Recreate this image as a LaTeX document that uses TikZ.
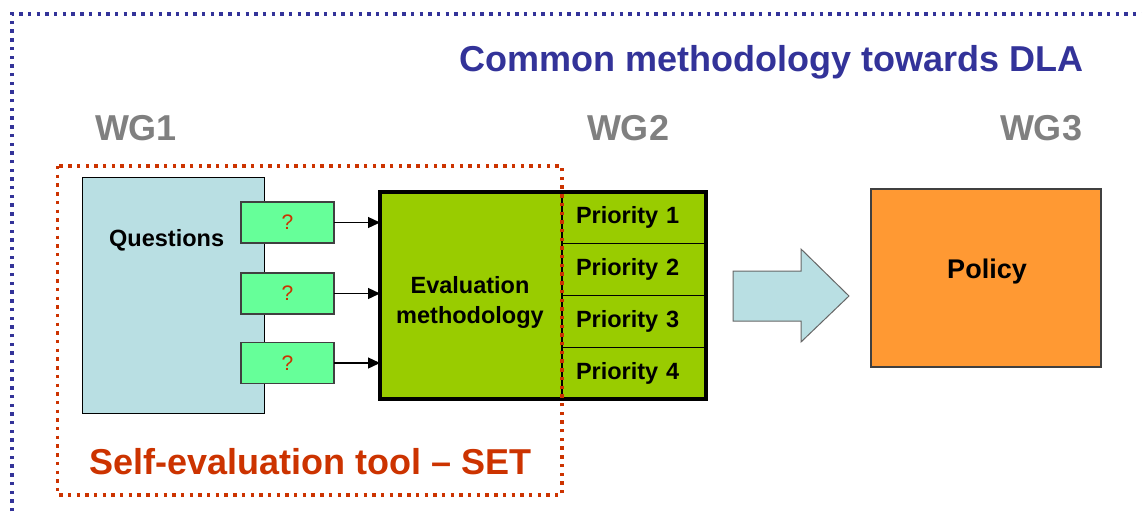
\documentclass[tikz,border=0pt]{standalone}
\usepackage{fontspec}
\setmainfont{Liberation Sans}
\usepackage{tikz}
\usetikzlibrary{arrows.meta,calc}
\definecolor{dlablue}{RGB}{51,51,153}
\definecolor{wggray}{RGB}{128,128,128}
\definecolor{setred}{RGB}{204,51,0}
\definecolor{questblue}{RGB}{185,223,227}
\definecolor{askgreen}{RGB}{102,255,153}
\definecolor{evalgreen}{RGB}{153,204,0}
\definecolor{policyorange}{RGB}{255,153,51}
\newcommand{\PxFont}[2]{\fontsize{#1}{#2}\selectfont\bfseries}
\tikzset{
  box/.style={draw, outer sep=0pt, inner sep=0pt},
  questbox/.style={box, fill=questblue, line width=1pt},         % WG1 question list
  askbox/.style={box, fill=askgreen, draw=black!75, line width=1.2pt,
    minimum width=93, minimum height=41, text=setred, font=\fontsize{21}{25}\selectfont},
  evalbox/.style={box, fill=evalgreen, line width=4pt},          % WG2 block
  prcell/.style={box, line width=1.4pt, minimum width=144, minimum height=51.75,
    text width=116pt, align=left, font=\PxFont{23.5}{28}},
  policybox/.style={box, fill=policyorange, draw=black!75, line width=1.4pt},
  flowline/.style={-{Triangle[length=12pt,width=11pt]}, line width=1.3pt},
  bigflow/.style={fill=questblue, draw=black!60, line width=1pt},
  heading/.style={inner sep=0pt, font=\PxFont{36}{43}},
  dlaframe/.style={draw=dlablue, line width=3.6pt, dash pattern=on 3.4pt off 5.3pt},
  setframe/.style={draw=setred, line width=3.6pt, dash pattern=on 3.4pt off 5.3pt}
}

\begin{document}
\begin{tikzpicture}[x=1pt, y=-1pt]
  \useasboundingbox (0,0) rectangle (1142,515);
  % WG1: questions
  \node[questbox, minimum width=182, minimum height=236] (quest) at (173,295) {};
  \node[inner sep=0pt, anchor=base west, font=\PxFont{23.5}{28}] (questlbl) at (109,246) {Questions};
  \foreach \i/\yy in {1/222.5, 2/293.5, 3/363}{
    \node[askbox] (q\i) at (287.5,\yy) {?};
  }
  % WG2: evaluation block with priorities
  \node[evalbox, minimum width=326, minimum height=207] (eval) at (543,295.5) {};
  \foreach \i/\yy in {1/217.9, 2/269.6, 3/321.4, 4/373.1}{
    \node[prcell] (pr\i) at (634,\yy) {Priority \i};
  }
  \node[inner sep=0pt, align=center, font=\PxFont{23.5}{29.5}] (evallbl) at (470,302.5)
    {Evaluation\\methodology};
  \foreach \i in {1,2,3}{
    \draw[flowline] (q\i.east) -- (q\i.east -| eval.west);
  }
  % WG3: policy
  \node[policybox, minimum width=230, minimum height=178] (policy) at (986,278) {};
  \node[inner sep=0pt, anchor=base, font=\PxFont{27}{32}] (policylbl) at (987,278.3) {Policy};
  \draw[bigflow] (733,271) -- (801,271) -- (801,249) -- (849,296)
    -- (801,342) -- (801,321) -- (733,321) -- cycle;
  % frames
  \draw[dlaframe] (12,520) -- (12,14) -- (1150,14);
  \draw[setframe] (57.5,166) rectangle (562,495);
  % headings
  \node[heading, text=dlablue, anchor=base east] (title) at (1084,71) {Common methodology towards DLA};
  \node[heading, text=wggray, anchor=base] (wgA) at (136,140) {WG1};
  \node[heading, text=wggray, anchor=base] (wgB) at (628,140) {WG2};
  \node[heading, text=wggray, anchor=base] (wgC) at (1041,140) {WG3};
  \node[heading, text=setred, anchor=base west] (setlbl) at (89,474) {Self-evaluation tool – SET};
\end{tikzpicture}
\end{document}
